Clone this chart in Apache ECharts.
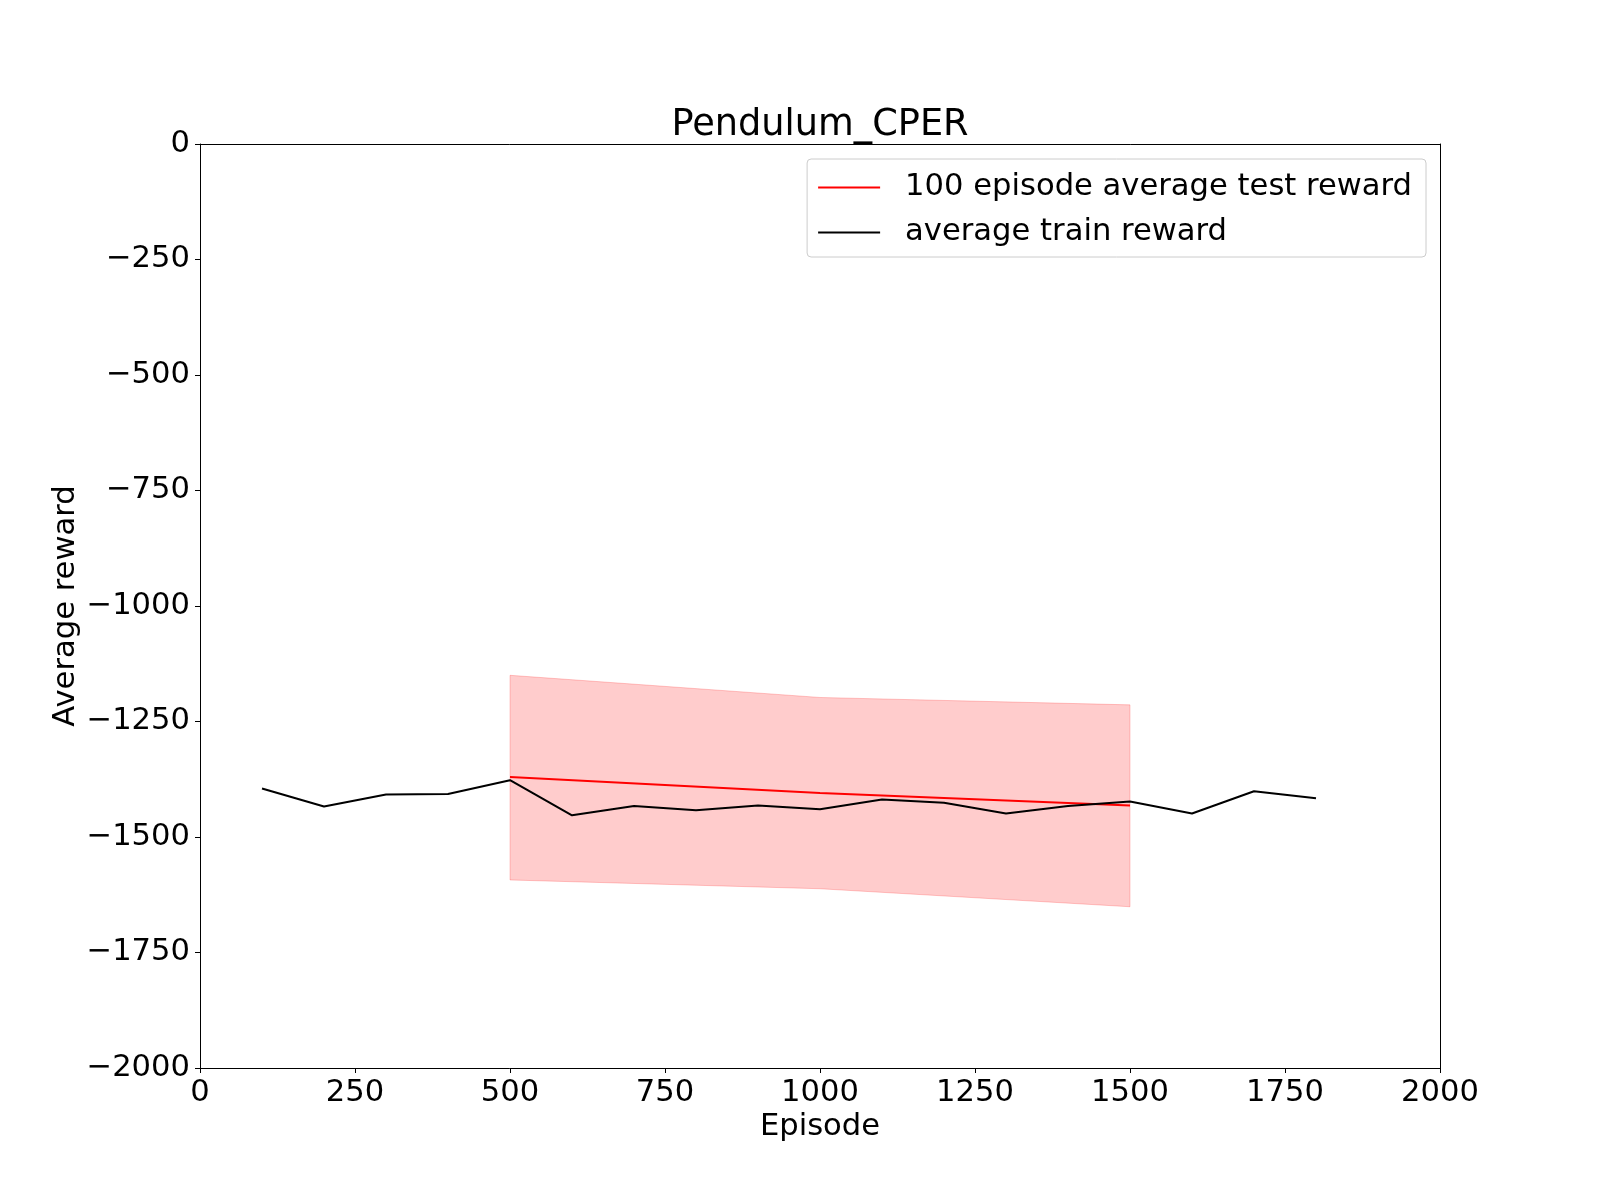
<!DOCTYPE html>
<html>
<head>
<meta charset="utf-8">
<script src="https://cdn.jsdelivr.net/npm/echarts@6/dist/echarts.min.js"></script>
<style>
    html, body { margin: 0; padding: 0; background: #fff; }
    #chart { width: 1600px; height: 1200px; }
</style>
</head>
<body>
<div id="chart"></div>
<script>
// 训练奖励（每100回合）
var trainEpisodes = [100, 200, 300, 400, 500, 600, 700, 800, 900, 1000, 1100, 1200, 1300, 1400, 1500, 1600, 1700, 1800];
var trainReward = [-1395, -1434, -1408, -1407, -1377, -1453, -1433, -1442, -1432, -1440, -1419, -1426, -1449, -1433, -1423, -1449, -1401, -1416];

// 测试奖励及上下界
var testEpisodes = [500, 1000, 1500];
var testReward = [-1370, -1405, -1432];
var testUpper = [-1150, -1198, -1214];
var testLower = [-1593, -1612, -1651];

var xTicks = [0, 250, 500, 750, 1000, 1250, 1500, 1750, 2000];

var font = 'DejaVu Sans';
var fs = 30.6;

function pairs(xs, ys) {
    var out = [];
    for (var i = 0; i < xs.length; i++) {
        out.push([xs[i], ys[i]]);
    }
    return out;
}

// 不要千分位，负号用 U+2212
function plain(v) {
    return String(v).replace('-', '\u2212');
}

// 上边和右边的框线
var frameAxis = {
    axisLine: { show: true, onZero: false, lineStyle: { color: '#000', width: 1 } },
    axisTick: { show: false },
    axisLabel: { show: false },
    splitLine: { show: false }
};

var option = {
    animation: false,
    backgroundColor: '#fff',
    title: {
        text: 'Pendulum_CPER',
        left: 815,
        top: 102,
        textAlign: 'center',
        textStyle: { fontFamily: font, fontSize: 36.7, fontWeight: 'normal', color: '#000' }
    },
    legend: {
        orient: 'vertical',
        right: 174,
        top: 159,
        data: [
            { name: '100 episode average test reward', icon: 'rect' },
            { name: 'average train reward', icon: 'rect' }
        ],
        itemWidth: 62,
        itemHeight: 2,
        itemGap: 14,
        padding: [13, 14, 9, 11],
        backgroundColor: 'rgba(255,255,255,0.8)',
        borderColor: '#cccccc',
        borderWidth: 1,
        borderRadius: 4,
        textStyle: { fontFamily: font, fontSize: fs, color: '#000', padding: [0, 0, 0, 20], lineHeight: 30 }
    },
    grid: {
        left: 200,
        right: 160,
        top: 144,
        bottom: 132,
        show: false
    },
    xAxis: [{
        type: 'value',
        min: xTicks[0],
        max: xTicks[xTicks.length - 1],
        interval: 250,
        name: 'Episode',
        nameLocation: 'middle',
        nameGap: 44,
        nameMoveOverlap: false,
        nameTextStyle: { fontFamily: font, fontSize: fs, color: '#000' },
        axisLine: { show: true, onZero: false, lineStyle: { color: '#000', width: 1 } },
        axisTick: { show: true, inside: false, length: 5, lineStyle: { color: '#000' } },
        axisLabel: { margin: 10, fontFamily: font, fontSize: fs, color: '#000', formatter: plain },
        splitLine: { show: false }
    }, Object.assign({
        type: 'value',
        position: 'top',
        min: xTicks[0],
        max: xTicks[xTicks.length - 1]
    }, frameAxis)],
    yAxis: [{
        type: 'value',
        min: -2000,
        max: 0,
        interval: 250,
        name: 'Average reward',
        nameLocation: 'middle',
        nameGap: 118,
        nameMoveOverlap: false,
        nameTextStyle: { fontFamily: font, fontSize: fs, color: '#000' },
        axisLine: { show: true, onZero: false, lineStyle: { color: '#000', width: 1 } },
        axisTick: { show: true, inside: false, length: 5, lineStyle: { color: '#000' } },
        axisLabel: { margin: 10, fontFamily: font, fontSize: fs, color: '#000', formatter: plain },
        splitLine: { show: false }
    }, Object.assign({
        type: 'value',
        position: 'right',
        min: -2000,
        max: 0
    }, frameAxis)],
    series: [
        {
            // 上下界之间的填充区域
            name: 'band',
            type: 'custom',
            silent: true,
            z: 1,
            data: [0],
            renderItem: function (params, api) {
                var pts = [];
                for (var i = 0; i < testEpisodes.length; i++) {
                    pts.push(api.coord([testEpisodes[i], testUpper[i]]));
                }
                for (var j = testEpisodes.length - 1; j >= 0; j--) {
                    pts.push(api.coord([testEpisodes[j], testLower[j]]));
                }
                return {
                    type: 'polygon',
                    shape: { points: pts },
                    style: { fill: 'rgba(255,0,0,0.2)', stroke: 'rgba(255,0,0,0.2)', lineWidth: 1 }
                };
            }
        },
        {
            name: '100 episode average test reward',
            type: 'line',
            z: 3,
            symbol: 'none',
            color: '#ff0000',
            lineStyle: { color: '#ff0000', width: 2 },
            data: pairs(testEpisodes, testReward)
        },
        {
            name: 'average train reward',
            type: 'line',
            z: 3,
            symbol: 'none',
            color: '#000000',
            lineStyle: { color: '#000000', width: 2 },
            data: pairs(trainEpisodes, trainReward)
        }
    ]
};

var myChart = echarts.init(document.getElementById('chart'));
myChart.setOption(option);

window.addEventListener('resize', function () {
    myChart.resize();
});
</script>
</body>
</html>
